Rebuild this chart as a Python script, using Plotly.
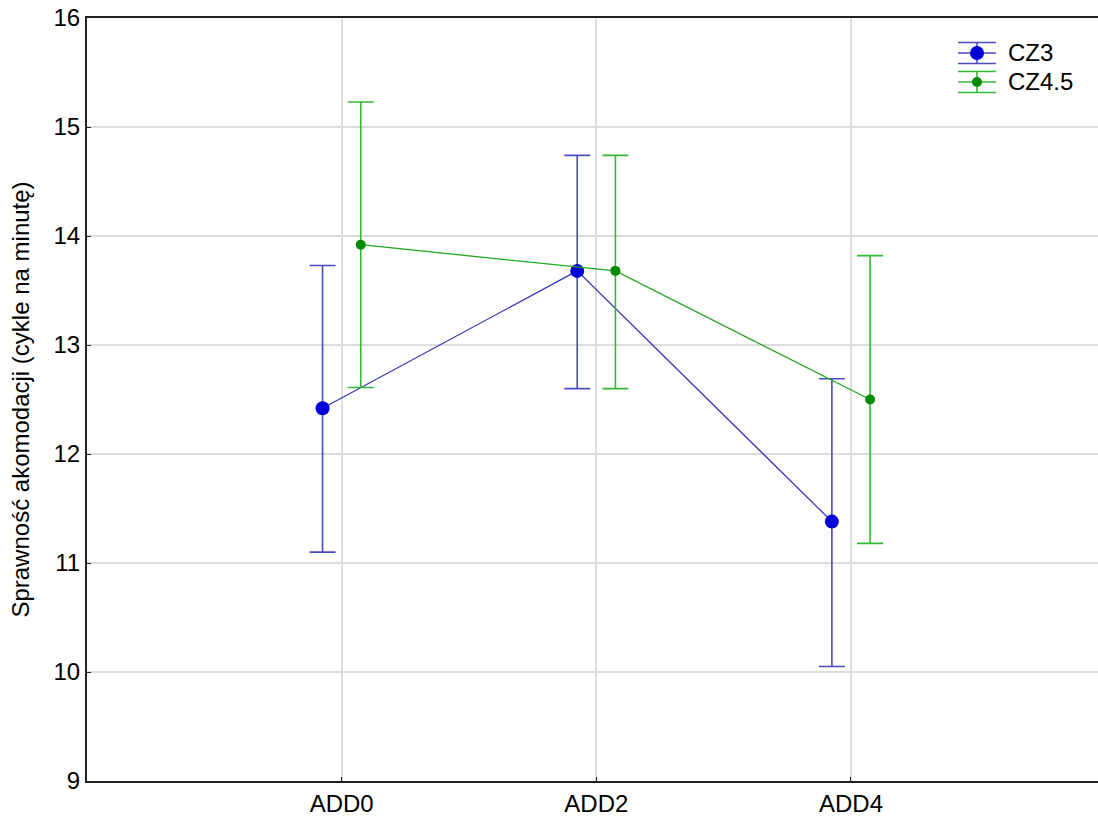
import plotly.graph_objects as go

# Conditions on the x axis
categories = ["ADD0", "ADD2", "ADD4"]

# Means and confidence limits for each group
cz3_mean = [12.42, 13.68, 11.38]
cz3_low = [11.10, 12.60, 10.05]
cz3_high = [13.73, 14.74, 12.69]

cz45_mean = [13.92, 13.68, 12.50]
cz45_low = [12.61, 12.60, 11.18]
cz45_high = [15.23, 14.74, 13.82]

y_ticks = [9, 10, 11, 12, 13, 14, 15, 16]

FONT = "Liberation Sans, Arial, Helvetica, sans-serif"
FS = 24
W, H = 1098, 820
ML, MR, MT, MB = 87, 0, 18, 39
pos = list(range(1, len(categories) + 1))
shift = 0.075

BLUE = dict(line="#3a3ab8", marker="#0000d8", err="#4a4ac4", size=14)
GREEN = dict(line="#22a822", marker="#008a00", err="#33b833", size=10)


def series(name, mean, low, high, dx, sty):
    return go.Scatter(
        x=[p + dx for p in pos],
        y=mean,
        name=name,
        mode="lines+markers",
        showlegend=False,
        line=dict(color=sty["line"], width=1.3),
        marker=dict(color=sty["marker"], size=sty["size"]),
        error_y=dict(
            type="data",
            symmetric=False,
            array=[h - m for h, m in zip(high, mean)],
            arrayminus=[m - l for m, l in zip(mean, low)],
            color=sty["err"],
            thickness=1.6,
            width=13,
        ),
    )


fig = go.Figure()
fig.add_trace(series("CZ3", cz3_mean, cz3_low, cz3_high, -shift, BLUE))
fig.add_trace(series("CZ4.5", cz45_mean, cz45_low, cz45_high, shift, GREEN))


# Legend drawn in paper space: an error-bar glyph plus label per series
def px(x):
    return (x - ML) / (W - ML - MR)


def py(y):
    return (H - MB - y) / (H - MT - MB)


def legend_entry(label, sty, cy):
    x0, x1, xc = 958, 996, 977
    top, bot = cy - 10.5, cy + 10.5
    for yy in (top, cy, bot):
        fig.add_shape(type="line", xref="paper", yref="paper",
                      x0=px(x0), x1=px(x1), y0=py(yy), y1=py(yy),
                      line=dict(color=sty["err"], width=1.6))
    fig.add_shape(type="line", xref="paper", yref="paper",
                  x0=px(xc), x1=px(xc), y0=py(top), y1=py(bot),
                  line=dict(color=sty["err"], width=1.6))
    r = sty["size"] / 2
    fig.add_shape(type="circle", xref="paper", yref="paper",
                  x0=px(xc - r), x1=px(xc + r), y0=py(cy - r), y1=py(cy + r),
                  fillcolor=sty["marker"], line=dict(width=0))
    fig.add_annotation(xref="paper", yref="paper", x=px(1006), y=py(cy),
                       xanchor="left", yanchor="middle", showarrow=False,
                       text=label, font=dict(family=FONT, size=FS, color="black"))


legend_entry("CZ3", BLUE, 53)
legend_entry("CZ4.5", GREEN, 82)

fig.update_layout(
    width=W,
    height=H,
    margin=dict(l=ML, r=MR, t=MT, b=MB),
    paper_bgcolor="white",
    plot_bgcolor="white",
    font=dict(family=FONT, size=FS, color="black"),
    showlegend=False,
)

fig.update_xaxes(
    range=[0, 3.97],
    tickmode="array",
    tickvals=pos,
    ticktext=categories,
    showgrid=True,
    gridcolor="#dcdcdc",
    gridwidth=1.5,
    showline=True,
    linecolor="#222222",
    linewidth=2,
    mirror=True,
    ticks="inside",
    ticklen=4,
    tickcolor="#222222",
    zeroline=False,
    tickfont=dict(family=FONT, size=FS),
)

fig.update_yaxes(
    range=[9, 16],
    tickmode="array",
    tickvals=y_ticks,
    showgrid=True,
    gridcolor="#dcdcdc",
    gridwidth=1.5,
    showline=True,
    linecolor="#222222",
    linewidth=2,
    ticks="inside",
    ticklen=4,
    tickcolor="#222222",
    zeroline=False,
    tickfont=dict(family=FONT, size=FS),
    title=dict(text="Sprawność akomodacji (cykle na minutę)",
               font=dict(family=FONT, size=FS), standoff=17),
)

fig.write_html("out.html")
